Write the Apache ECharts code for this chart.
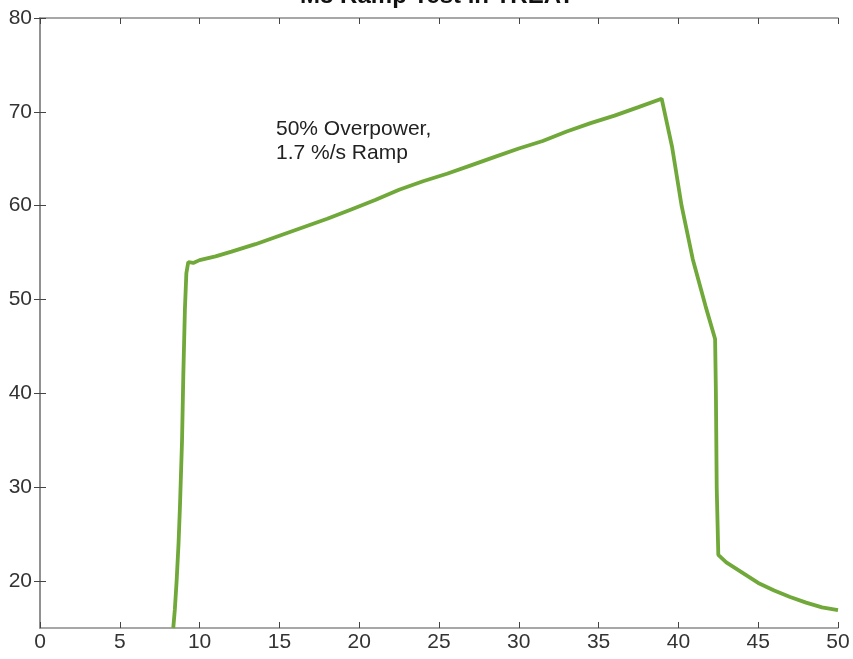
<!DOCTYPE html>
<html>
<head>
<meta charset="utf-8">
<script src="https://cdn.jsdelivr.net/npm/echarts@6/dist/echarts.min.js"></script>
<style>
html,body{margin:0;padding:0;background:#fff;}
#chart{width:853px;height:659px;}
</style>
</head>
<body>
<div id="chart"></div>
<script>
// Time (s) and power values
const timeValues = [8.35, 8.45, 8.56, 8.68, 8.77, 8.9, 8.98, 9.08, 9.17, 9.29, 9.6, 10.0, 11.0, 12.0, 13.5, 15.0, 16.5, 18.0, 19.5, 21.0, 22.5, 24.0, 25.5, 27.0, 28.5, 30.0, 31.5, 33.0, 34.5, 36.0, 37.5, 38.95, 39.6, 40.2, 40.9, 41.7, 42.3, 42.35, 42.4, 42.5, 43.0, 44.0, 45.0, 46.0, 47.0, 48.0, 49.0, 50.0];
const powerValues = [15, 17, 20, 24, 28, 35, 42, 49, 52.8, 54.0, 53.9, 54.2, 54.6, 55.1, 55.9, 56.8, 57.7, 58.6, 59.6, 60.6, 61.7, 62.6, 63.4, 64.3, 65.2, 66.1, 66.9, 67.9, 68.8, 69.6, 70.5, 71.4, 66.3, 60.0, 54.3, 49.3, 45.8, 40, 30, 22.8, 22.0, 20.9, 19.8, 19.0, 18.3, 17.7, 17.2, 16.9];
const yTickValues = [20, 30, 40, 50, 60, 70, 80];
const titleText = 'M8 Ramp Test in TREAT';
const annotationLines = ['50% Overpower,', '1.7 %/s Ramp'];

const seriesData = timeValues.map((t, i) => [t, powerValues[i]]);

const FONT = 'Liberation Sans, Arial, Helvetica, sans-serif';
const axisLineStyle = { color: '#8a8a8a', width: 1.5 };
const tickStyle = { color: '#444', width: 1 };
const labelStyle = { color: '#333', fontSize: 21, fontFamily: FONT };

const chart = echarts.init(document.getElementById('chart'));
chart.setOption({
  backgroundColor: '#fff',
  animation: false,
  title: {
    text: titleText,
    left: 437, textAlign: 'center',
    top: -16, padding: 0,
    textStyle: { fontSize: 24, fontWeight: 'bold', color: '#111', fontFamily: FONT }
  },
  grid: { left: 40, right: 15, top: 18, bottom: 31, containLabel: false },
  xAxis: [
    {
      type: 'value', min: 0, max: 50, interval: 5, position: 'bottom',
      axisLine: { show: true, lineStyle: axisLineStyle },
      axisTick: { show: true, inside: true, length: 6, lineStyle: tickStyle },
      axisLabel: Object.assign({ margin: 4 }, labelStyle),
      splitLine: { show: false }
    },
    {
      type: 'value', min: 0, max: 50, interval: 5, position: 'top',
      axisLine: { show: true, lineStyle: axisLineStyle },
      axisTick: { show: true, inside: true, length: 6, lineStyle: tickStyle },
      axisLabel: { show: false },
      splitLine: { show: false }
    }
  ],
  yAxis: [
    {
      type: 'value', min: 15, max: 80, position: 'left',
      axisLine: { show: true, lineStyle: axisLineStyle },
      axisTick: { show: true, inside: true, length: 6, lineStyle: tickStyle, customValues: yTickValues },
      axisLabel: Object.assign({ margin: 8, customValues: yTickValues }, labelStyle),
      splitLine: { show: false }
    },
    {
      type: 'value', min: 15, max: 80, position: 'right',
      axisLine: { show: true, lineStyle: axisLineStyle },
      axisTick: { show: true, inside: true, length: 6, lineStyle: tickStyle, customValues: yTickValues },
      axisLabel: { show: false, customValues: yTickValues },
      splitLine: { show: false }
    }
  ],
  series: [{
    type: 'line',
    data: seriesData,
    xAxisIndex: 0, yAxisIndex: 0,
    showSymbol: false,
    smooth: false,
    lineStyle: { color: '#70a83a', width: 3.8 },
    clip: true
  }],
  graphic: [{
    type: 'text', left: 276, top: 117,
    style: {
      text: annotationLines.join('\n'),
      fill: '#222', fontSize: 21, lineHeight: 24,
      fontFamily: FONT
    }
  }]
});
</script>
</body>
</html>
